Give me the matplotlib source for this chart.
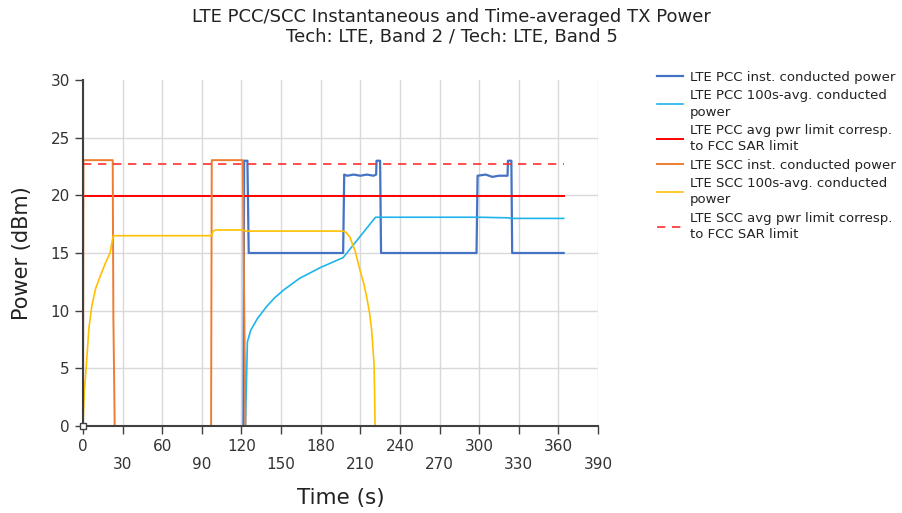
import numpy as np
import matplotlib
matplotlib.use("Agg")
from matplotlib import pyplot

# ---- data ----
pcc_inst_t = [121.5, 122.0, 124.5, 125.5, 197.0, 197.8, 200, 205, 210, 215, 220, 222.0,
              222.3, 225.0, 225.7, 298.0, 298.8, 305, 310, 315, 321.5, 321.8, 324.4,
              325.0, 364.0]
pcc_inst_v = [0.0, 23.0, 23.0, 15.0, 15.0, 21.8, 21.7, 21.8, 21.7, 21.8, 21.7, 21.8,
              23.0, 23.0, 15.0, 15.0, 21.7, 21.8, 21.6, 21.7, 21.7, 23.0, 23.0,
              15.0, 15.0]

pcc_avg_t = [123.0, 124.5, 127, 132, 139, 145, 152, 164, 180, 197, 221.5, 300, 322, 324, 364]
pcc_avg_v = [0.0, 7.3, 8.3, 9.3, 10.35, 11.1, 11.8, 12.8, 13.75, 14.6, 18.1, 18.1, 18.05, 18.0, 18.0]

scc_inst_t = [0.0, 0.3, 22.5, 23.0, 24.0, np.nan, 97.0, 97.5, 121.0, 123.0]
scc_inst_v = [0.0, 23.05, 23.05, 9.5, 0.0, np.nan, 0.0, 23.05, 23.05, 0.0]

scc_avg_t = [0.0, 1.0, 2.8, 4.5, 6.6, 9.5, 12.9, 16.5, 20.4, 22.9, 97.4, 98.5, 100.7,
             121.0, 123.0, 197.0, 199.0, 202.0, 206.0, 209.8, 212.5, 214.8, 217.0,
             218.6, 220.4, 220.8, 221.1, 221.2]
scc_avg_v = [0.0, 3.0, 5.7, 8.5, 10.35, 11.9, 12.95, 14.0, 14.97, 16.5, 16.5, 16.9, 17.0,
             17.0, 16.9, 16.9, 16.8, 16.4, 15.2, 13.5, 12.4, 11.2, 9.8,
             8.3, 5.4, 3.0, 0.5, 0.0]

limit_t = [0.0, 364.0]
pcc_limit = 19.9
scc_limit = 22.7

labels = ["LTE PCC inst. conducted power",
          "LTE PCC 100s-avg. conducted\npower",
          "LTE PCC avg pwr limit corresp.\nto FCC SAR limit",
          "LTE SCC inst. conducted power",
          "LTE SCC 100s-avg. conducted\npower",
          "LTE SCC avg pwr limit corresp.\nto FCC SAR limit"]

xticks = list(range(0, 391, 30))
yticks = list(range(0, 31, 5))

# ---- figure ----
fig = pyplot.figure(figsize=(9.03, 5.13), dpi=100)
ax = fig.add_axes([83 / 903, 1 - 426 / 513, 515 / 903, 346 / 513])

h1, = ax.plot(pcc_inst_t, pcc_inst_v, color='#4472C4', lw=1.6)
h2, = ax.plot(pcc_avg_t, pcc_avg_v, color='#1FB4EA', lw=1.2)
h3, = ax.plot(limit_t, [pcc_limit] * 2, color='#FF0000', lw=1.4)
h4, = ax.plot(scc_inst_t, scc_inst_v, color='#ED7D31', lw=1.4)
h5, = ax.plot(scc_avg_t, scc_avg_v, color='#FFC000', lw=1.2)
h6, = ax.plot(limit_t, [scc_limit] * 2, color='#FF3030', lw=1.2, ls=(0, (5, 4)))
ax.plot(scc_avg_t[:1], scc_avg_v[:1], 's', ms=4, mfc='white', mec='#404040', mew=1,
        zorder=5, clip_on=False)

ax.set_xlim(0, 390)
ax.set_ylim(0, 30)
ax.set_xticks(xticks)
ax.set_xticklabels([str(t) if i % 2 == 0 else '\n' + str(t) for i, t in enumerate(xticks)])
ax.set_yticks(yticks)
ax.grid(True, color='#d9d9d9', lw=1)
ax.yaxis.get_gridlines()[-1].set_visible(False)
ax.set_axisbelow(True)

for side in ['top', 'right']:
    ax.spines[side].set_visible(False)
for side in ['left', 'bottom']:
    ax.spines[side].set_color('#404040')
    ax.spines[side].set_linewidth(1.5)
ax.tick_params(colors='#404040', labelcolor='#333333', labelsize=11, length=6, width=1)

ax.set_xlabel("Time (s)", fontsize=15.5, color='#222222', labelpad=12)
ax.set_ylabel("Power (dBm)", fontsize=15, color='#222222', labelpad=13)

fig.suptitle("LTE PCC/SCC Instantaneous and Time-averaged TX Power\n"
             "Tech: LTE, Band 2 / Tech: LTE, Band 5",
             x=0.5, y=0.985, fontsize=13, color='#222222', linespacing=1.2)

fig.legend([h1, h2, h3, h4, h5, h6], labels, loc='upper left',
           bbox_to_anchor=(645 / 903, 1 - 59 / 513), frameon=False,
           handlelength=2.0, handletextpad=0.5, labelspacing=0.4,
           labelcolor='#222222', prop={'size': 9.5})
for t in fig.legends[0].get_texts():
    t.set_linespacing(1.35)

pyplot.savefig("out.png", dpi=100)
